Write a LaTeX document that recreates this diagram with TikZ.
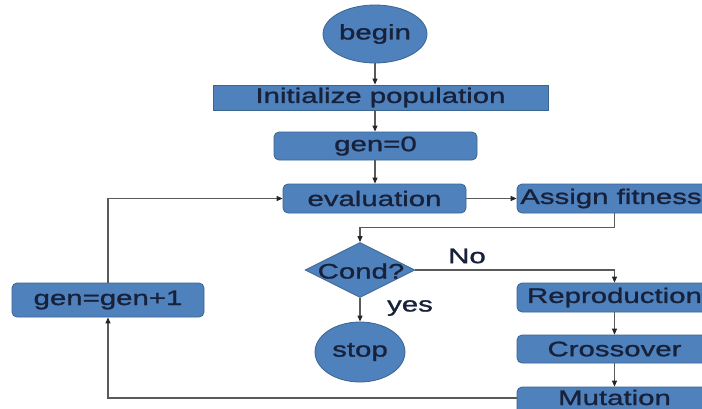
\documentclass[tikz,border=0pt]{standalone}
\usepackage{fontspec}
\setmainfont{Liberation Sans}[FakeStretch=1.4,FakeBold=1.2]
\usetikzlibrary{shapes.geometric,arrows.meta}
\definecolor{boxfill}{HTML}{4F81BD}
\definecolor{boxline}{HTML}{3A6591}
\definecolor{txt}{HTML}{18213A}
\definecolor{conn}{HTML}{5A5A5A}
\begin{document}
\begin{tikzpicture}[x=1pt,y=-1pt,
  every node/.style={font=\fontsize{21}{25}\selectfont, text=txt},
  shapebase/.style={fill=boxfill, draw=boxline, line width=0.8pt, inner sep=0pt},
  sqbox/.style={shapebase, rectangle},
  rbox/.style={shapebase, rectangle, rounded corners=5pt},
  oval/.style={shapebase, ellipse},
  dia/.style={shapebase, diamond},
  conn/.style={draw=conn, line width=1.1pt},
  arr/.style={conn, -{Triangle[length=6pt,width=5pt,color=black!85]}},
  lbl/.style={inner sep=0pt}
]
\useasboundingbox (0,0) rectangle (702,408);
\clip (0,0) rectangle (702,408);
\fill[white] (0,0) rectangle (702,408);

\node[oval, minimum width=104pt, minimum height=58pt] (begin) at (375,34) {begin};
\node[sqbox, minimum width=335pt, minimum height=25pt] (init) at (380.5,97.5) {Initialize population};
\node[rbox, minimum width=203pt, minimum height=28pt] (gen0) at (375.5,146) {gen=0};
\node[rbox, minimum width=183pt, minimum height=29pt] (eval) at (374.5,198.5) {evaluation};
\node[rbox, minimum width=195pt, minimum height=29pt] (assign) at (614.5,198.5) {};
\node[lbl] (assignlbl) at (611,198.5) {Assign fitness};
\node[dia, minimum width=110pt, minimum height=55pt] (cond) at (360,270) {};
\node[lbl] (condlbl) at (361,271) {Cond?};
\node[oval, minimum width=90pt, minimum height=60pt] (stop) at (360,352) {stop};
\node[rbox, minimum width=195pt, minimum height=29pt] (reprod) at (614.5,297.5) {Reproduction};
\node[rbox, minimum width=195pt, minimum height=28pt] (cross) at (614.5,349) {Crossover};
\node[rbox, minimum width=195pt, minimum height=28pt] (mut) at (614.5,401) {};
\node[lbl, anchor=base] (mutlbl) at (614.5,405) {Mutation};
\node[rbox, minimum width=192pt, minimum height=34pt] (gen1) at (108,300) {gen=gen+1};

\node[lbl] (nolbl) at (467,256) {No};
\node[lbl] (yeslbl) at (410,308) {yes};

\draw[arr] (begin.south) -- (begin.south |- init.north);
\draw[arr] (begin.south |- init.south) -- (begin.south |- gen0.north);
\draw[arr] (begin.south |- gen0.south) -- (begin.south |- eval.north);
\draw[arr] (eval.east) -- (assign.west);
\coordinate (j1) at ([yshift=-14pt]assign.south);
\draw[arr] (assign.south) -- (j1) -| (cond.north);
\draw[arr] (cond.east) -| (reprod.north);
\draw[arr] (cond.south) -- (stop.north);
\draw[arr] (reprod.south) -- (cross.north);
\draw[arr] (cross.south) -- (mut.north);
\draw[arr] ([yshift=3pt]mut.west) -| (gen1.south);
\draw[arr] (gen1.north) |- (eval.west);
\end{tikzpicture}
\end{document}
